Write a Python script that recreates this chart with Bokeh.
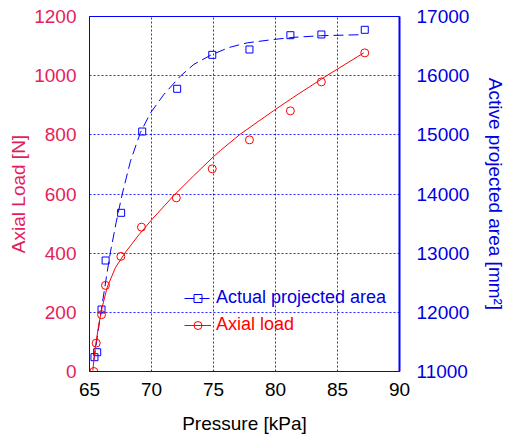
from bokeh.plotting import figure
from bokeh.models import Range1d, LinearAxis, FixedTicker, Legend, LegendItem
from bokeh.embed import file_html
from bokeh.resources import INLINE

# ---- data ----
pressure_area = [65.4, 65.62, 65.97, 66.3, 67.55, 69.25, 72.07, 74.9, 77.9, 81.2, 83.7, 87.2]
area_values = [11242, 11326, 12048, 12876, 13682, 15056, 15778, 16352, 16442, 16684, 16696, 16775]

pressure_load = [65.35, 65.54, 65.97, 66.29, 67.53, 69.19, 72.0, 74.9, 77.9, 81.2, 83.7, 87.2]
load_values = [0, 96, 192, 291, 389, 488, 587, 685, 783, 881, 979, 1077]

# fitted curves
fit_area_x = [65.35, 65.62, 65.94, 66.35, 66.69, 67.15, 67.64, 68.31, 69.11, 69.92, 70.99,
              72.34, 73.41, 74.76, 76.23, 77.72, 79.86, 81.48, 83.63, 86.85]
fit_area_y = [11186, 11570, 12020, 12580, 13020, 13520, 14000, 14560, 15040, 15370, 15680,
              15995, 16190, 16345, 16475, 16555, 16612, 16648, 16675, 16692]

fit_load_x = [65.27, 65.43, 65.75, 66.02, 66.43, 67.10, 67.90, 68.98, 70.06, 71.80, 73.41,
              75.02, 75.56, 77.18, 79.86, 81.48, 84.17, 87.12]
fit_load_y = [3, 71, 160, 217, 285, 352, 403, 462, 515, 595, 662,
              727, 747, 803, 882, 928, 1001, 1077]

x_ticks = [65, 70, 75, 80, 85, 90]
load_ticks = [0, 200, 400, 600, 800, 1000, 1200]
area_ticks = [11000, 12000, 13000, 14000, 15000, 16000, 17000]

BLUE_TEXT = "#0000E0"
BLUE = "#0000FF"
RED = "#FF0000"
PINK = "#E41E5A"
FONT = "Liberation Sans"

p = figure(frame_width=310, frame_height=355, output_backend="svg", toolbar_location=None,
           x_range=Range1d(65, 90), y_range=Range1d(0, 1200),
           min_border_left=89, min_border_right=60, min_border_top=16, min_border_bottom=59)
p.extra_y_ranges = {"area": Range1d(11000, 17000)}

p.outline_line_color = BLUE
p.outline_line_width = 1
p.background_fill_color = "white"
p.border_fill_color = "white"

# grids
p.xgrid.ticker = FixedTicker(ticks=x_ticks)
p.ygrid.ticker = FixedTicker(ticks=load_ticks)
for g in (p.xgrid, p.ygrid):
    g.grid_line_color = BLUE
    g.grid_line_dash = "2 2"
    g.grid_line_width = 1
    g.grid_line_alpha = 0.85

# x axis
xa = p.xaxis[0]
xa.ticker = FixedTicker(ticks=x_ticks)
xa.axis_label = "Pressure [kPa]"
xa.axis_label_text_font = FONT
xa.axis_label_text_font_style = "normal"
xa.axis_label_text_font_size = "19px"
xa.axis_label_text_color = "black"
xa.axis_label_standoff = 14
xa.major_label_text_font = FONT
xa.major_label_text_font_size = "19px"
xa.major_label_text_color = "black"
xa.major_label_standoff = 5
xa.axis_line_color = BLUE

# left axis
ya = p.yaxis[0]
ya.ticker = FixedTicker(ticks=load_ticks)
ya.axis_label = "Axial Load [N]"
ya.axis_label_text_font = FONT
ya.axis_label_text_font_style = "normal"
ya.axis_label_text_font_size = "19px"
ya.axis_label_text_color = PINK
ya.axis_label_standoff = 2
ya.major_label_text_font = FONT
ya.major_label_text_font_size = "19px"
ya.major_label_text_color = PINK
ya.major_label_standoff = 7
ya.axis_line_color = BLUE

# right axis
ra = LinearAxis(y_range_name="area", ticker=FixedTicker(ticks=area_ticks))
ra.axis_label = "Active projected area [mm²]"
ra.axis_label_text_font = FONT
ra.axis_label_text_font_style = "normal"
ra.axis_label_text_font_size = "19px"
ra.axis_label_text_color = BLUE_TEXT
ra.axis_label_standoff = 13
ra.major_label_text_font = FONT
ra.major_label_text_font_size = "19px"
ra.major_label_text_color = BLUE_TEXT
ra.major_label_standoff = 11
ra.axis_line_color = BLUE
ra.axis_line_width = 2
p.add_layout(ra, "right")

for ax in (xa, ya, ra):
    ax.major_tick_line_color = None
    ax.minor_tick_line_color = None

# curves and points
area_line = p.line(fit_area_x, fit_area_y, y_range_name="area", line_color=BLUE,
                   line_width=1, line_dash="10 5")
p.rect(pressure_area, area_values, width=7, height=7, width_units="screen",
       height_units="screen", y_range_name="area",
       line_color=BLUE, fill_color=None, line_width=1)
# hidden square-marker renderer of the same data, used only for the legend key
area_key = p.scatter(pressure_area, area_values, y_range_name="area", marker="square", size=8,
                     line_color=BLUE, fill_color=None, line_width=1, visible=False)
load_line = p.line(fit_load_x, fit_load_y, line_color=RED, line_width=1)
load_pts = p.scatter(pressure_load, load_values, marker="circle", size=8,
                     line_color=RED, fill_color=None, line_width=1)


def make_legend(label, renderers, color, loc):
    lg = Legend(items=[LegendItem(label=label, renderers=renderers)], location=loc)
    lg.background_fill_alpha = 0
    lg.border_line_alpha = 0
    lg.padding = 0
    lg.margin = 0
    lg.spacing = 0
    lg.glyph_width = 27
    lg.glyph_height = 20
    lg.label_height = 20
    lg.label_standoff = 5
    lg.label_text_font = FONT
    lg.label_text_font_size = "18px"
    lg.label_text_color = color
    return lg


p.add_layout(make_legend("Actual projected area", [area_line, area_key], BLUE_TEXT, (95, 63)), "center")
p.add_layout(make_legend("Axial load", [load_line, load_pts], RED, (95, 36)), "center")

open("out.html", "w").write(file_html(p, INLINE))
